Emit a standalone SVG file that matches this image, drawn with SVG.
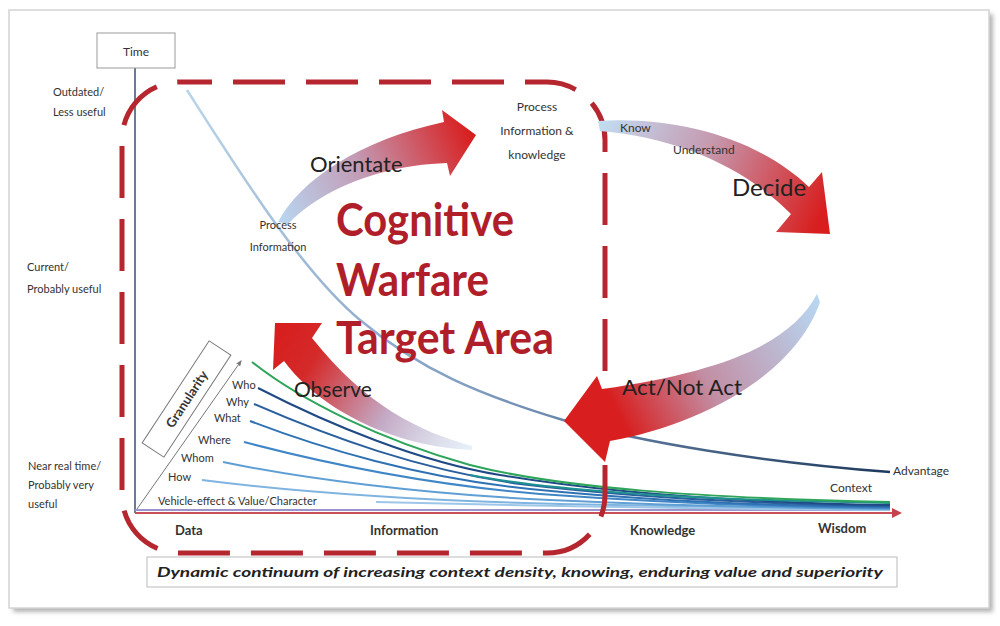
<svg xmlns="http://www.w3.org/2000/svg" width="1000" height="626" viewBox="0 0 1000 626">
<defs>
<style>
.sm{font-family:Lato,"Liberation Sans",Arial,sans-serif;font-size:11px;fill:#333}
.lbl{font-family:Lato,"Liberation Sans",Arial,sans-serif;font-size:12px;fill:#333}
.axl{font-family:Lato,"Liberation Sans",Arial,sans-serif;font-size:13px;font-weight:bold;fill:#333}
.big{font-family:Lato,"Liberation Sans",Arial,sans-serif;fill:#222}
.title{font-family:Lato,"Liberation Sans",Arial,sans-serif;font-size:45px;font-weight:bold;fill:#b01e2a}
.crv{fill:none;stroke-width:2}
</style>
<linearGradient id="gOr" gradientUnits="userSpaceOnUse" x1="275" y1="215" x2="470" y2="130">
<stop offset="0" stop-color="#b8d7f2"/><stop offset="0.45" stop-color="#c39bb5"/><stop offset="1" stop-color="#d81e1e"/>
</linearGradient>
<linearGradient id="gDe" gradientUnits="userSpaceOnUse" x1="600" y1="125" x2="820" y2="220">
<stop offset="0" stop-color="#c2dcf2"/><stop offset="0.45" stop-color="#c59ab0"/><stop offset="1" stop-color="#d81e1e"/>
</linearGradient>
<linearGradient id="gAc" gradientUnits="userSpaceOnUse" x1="818" y1="298" x2="575" y2="420">
<stop offset="0" stop-color="#b8d7f2"/><stop offset="0.5" stop-color="#c28fa5"/><stop offset="0.85" stop-color="#d81e1e"/><stop offset="1" stop-color="#d81e1e"/>
</linearGradient>
<linearGradient id="gOb" gradientUnits="userSpaceOnUse" x1="470" y1="448" x2="280" y2="330">
<stop offset="0" stop-color="#d6e6f5" stop-opacity="0.6"/><stop offset="0.4" stop-color="#c4a9c4"/><stop offset="0.8" stop-color="#d42a2a"/><stop offset="1" stop-color="#d81e1e"/>
</linearGradient>
<linearGradient id="gAdv" gradientUnits="userSpaceOnUse" x1="187" y1="90" x2="890" y2="472">
<stop offset="0" stop-color="#b9d4ea"/><stop offset="0.5" stop-color="#7f9cc0"/><stop offset="1" stop-color="#1d3a5c"/>
</linearGradient>
<marker id="ahR" viewBox="0 0 10 10" refX="8" refY="5" markerWidth="5" markerHeight="5" orient="auto">
<path d="M0,0 L10,5 L0,10 Z" fill="#c8404a"/>
</marker>
<marker id="ahG" viewBox="0 0 10 10" refX="8" refY="5" markerWidth="6" markerHeight="6" orient="auto">
<path d="M0,1 L10,5 L0,9 Z" fill="#777"/>
</marker>
<filter id="blur" x="-5%" y="-5%" width="110%" height="110%"><feGaussianBlur stdDeviation="2"/></filter>
</defs>

<rect width="1000" height="626" fill="#ffffff"/>
<g id="frame">
<rect x="13" y="14" width="980" height="598" fill="#b5b5b5" filter="url(#blur)"/>
<rect x="9" y="10" width="980" height="598" fill="#ffffff" stroke="#d4d4d4" stroke-width="1.5"/>
</g>

<g id="axes">
<line x1="135" y1="68" x2="135" y2="513" stroke="#3b4f70" stroke-width="1.5"/>
<line x1="135" y1="513" x2="900" y2="513" stroke="#c8505a" stroke-width="2" marker-end="url(#ahR)"/>
<line x1="137" y1="509" x2="241" y2="361" stroke="#777" stroke-width="1" marker-end="url(#ahG)"/>
</g>

<g id="time-box">
<rect x="97" y="33" width="78" height="35" fill="#fff" stroke="#999" stroke-width="1"/>
<text class="lbl" x="136" y="56" text-anchor="middle" font-size="13">Time</text>
</g>

<g id="y-labels">
<text class="sm" x="53" y="96">Outdated/</text>
<text class="sm" x="53" y="116">Less useful</text>
<text class="sm" x="27" y="271">Current/</text>
<text class="sm" x="27" y="293">Probably useful</text>
<text class="sm" x="28" y="470">Near real time/</text>
<text class="sm" x="28" y="489">Probably very</text>
<text class="sm" x="28" y="508">useful</text>
</g>

<g id="connectors">
<path d="M187,90 C235,165 300,270 360,320 C420,370 480,395 563,420 C640,442 760,462 890,472" fill="none" stroke="url(#gAdv)" stroke-width="2.5"/>
<line x1="135" y1="510" x2="890" y2="510" stroke="#9a94cc" stroke-width="2"/>
<path class="crv" d="M202,480 C280,490 400,500 560,504 C680,507 790,509 890,510" stroke="#7fb4e0"/>
<path class="crv" d="M376,502 C500,505 700,509 890,510" stroke="#9ec6e8"/>
<path class="crv" d="M223,462 C300,478 420,494 550,500 C660,505 780,508 890,509" stroke="#5f9fd4"/>
<path class="crv" d="M244,442 C320,462 420,484 540,494 C650,502 770,507 890,508" stroke="#3f86c6"/>
<path class="crv" d="M250,421 C320,448 420,478 530,489 C640,500 760,506 890,507" stroke="#2f72b4"/>
<path class="crv" d="M254,404 C330,437 420,470 520,484 C620,496 750,504 890,506" stroke="#2a5f9e"/>
<path class="crv" d="M258,388 C330,425 420,462 500,475 C600,492 720,502 890,505" stroke="#1f4a85"/>
<path class="crv" d="M470,475 C560,492 700,500 890,503" stroke="#1e9090" stroke-width="4"/>
<path class="crv" d="M252,362 C300,400 380,440 470,465 C560,488 700,498 890,502" stroke="#2ea55a" stroke-width="2.5"/>
</g>

<g id="target-area">
<rect x="122" y="82" width="483" height="471" rx="58" ry="58" fill="none" stroke="#b5262e" stroke-width="5" stroke-dasharray="52 21" stroke-dashoffset="20"/>
</g>

<g id="granularity">
<g transform="translate(186.5,399) rotate(-56.7)">
<rect x="-61" y="-13" width="122" height="26" fill="#fff" stroke="#777" stroke-width="1"/>
<text class="axl" x="0" y="5" text-anchor="middle" font-size="13" fill="#222">Granularity</text>
</g>
</g>

<g id="dimension-labels">
<text class="sm" x="232" y="389">Who</text>
<text class="sm" x="226" y="406">Why</text>
<text class="sm" x="214" y="422">What</text>
<text class="sm" x="198" y="444">Where</text>
<text class="sm" x="181" y="462">Whom</text>
<text class="sm" x="168" y="481">How</text>
<text class="sm" x="158" y="505">Vehicle-effect &amp; Value/Character</text>
</g>

<g id="orientate">
<path d="M278,222 C300,180 360,140 444,122 L442,110 L476,135 L450,176 L447,163 C380,165 320,190 288,224 Z" fill="url(#gOr)"/>
<text class="big" x="310" y="172" font-size="22">Orientate</text>
</g>

<g id="decide">
<path d="M598,121 C680,116 760,140 809,187 L822,172 L830,234 L776,232 L791,214 C745,168 680,138 600,131 Z" fill="url(#gDe)"/>
<text class="lbl" x="620" y="132">Know</text>
<text class="lbl" x="673" y="154">Understand</text>
<text class="big" x="732" y="196" font-size="24">Decide</text>
</g>

<g id="act">
<path d="M817,294 C790,345 720,372 602,389 L597,376 L564,421 L605,462 L610,441 C700,425 795,375 820,302 Z" fill="url(#gAc)"/>
<text class="big" x="622" y="395" font-size="22" fill="#2a2a2a" textLength="120" lengthAdjust="spacingAndGlyphs">Act/Not Act</text>
</g>

<g id="observe">
<path d="M472,446 C420,432 365,405 312,338 L322,323 L275,323 L273,370 L284,361 C320,410 395,447 472,450 Z" fill="url(#gOb)"/>
<text class="big" x="294" y="397" font-size="21">Observe</text>
</g>

<g id="process-labels">
<text class="sm" x="278" y="229" text-anchor="middle">Process</text>
<text class="sm" x="278" y="251" text-anchor="middle">Information</text>
<text class="lbl" x="537" y="111" text-anchor="middle">Process</text>
<text class="lbl" x="537" y="135" text-anchor="middle">Information &amp;</text>
<text class="lbl" x="537" y="159" text-anchor="middle">knowledge</text>
</g>

<g id="title">
<text class="title" x="336" y="236" textLength="178" lengthAdjust="spacingAndGlyphs">Cognitive</text>
<text class="title" x="336" y="296" textLength="153" lengthAdjust="spacingAndGlyphs">Warfare</text>
<text class="title" x="336" y="354" textLength="218" lengthAdjust="spacingAndGlyphs">Target Area</text>
</g>

<g id="x-labels">
<text class="axl" x="175" y="535">Data</text>
<text class="axl" x="370" y="535">Information</text>
<text class="axl" x="630" y="535">Knowledge</text>
<text class="axl" x="818" y="533">Wisdom</text>
<text class="lbl" x="830" y="492">Context</text>
<text class="lbl" x="893" y="475">Advantage</text>
</g>

<g id="continuum">
<rect x="147" y="557" width="750" height="30" fill="#fff" stroke="#bbb" stroke-width="1"/>
<text x="520" y="577" text-anchor="middle" font-family="Lato,'Liberation Sans',Arial,sans-serif" font-size="14" font-style="italic" font-weight="bold" fill="#222" textLength="726" lengthAdjust="spacingAndGlyphs">Dynamic continuum of increasing context density, knowing, enduring value and superiority</text>
</g>
</svg>
